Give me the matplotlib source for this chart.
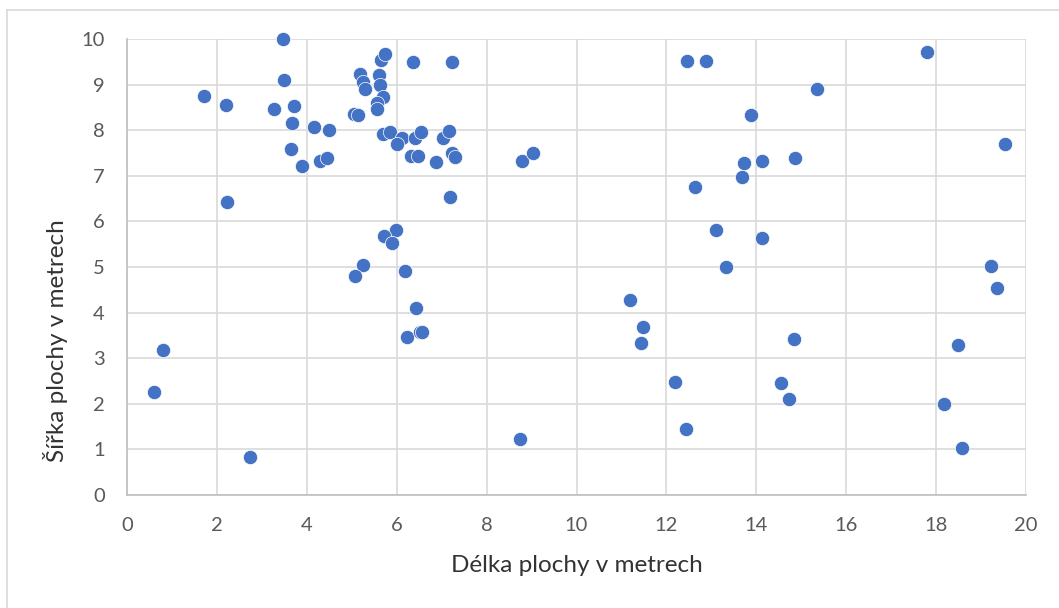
#!/usr/bin/env python3
"""Scatter: length vs width of plots, Excel-like look."""
import matplotlib
matplotlib.use('Agg')
import matplotlib.pyplot as plt
from matplotlib.lines import Line2D

# Délka (x) and šířka (y), in metres
delka = [
    0.60, 0.81, 1.71, 2.21, 2.22, 2.74, 3.27, 3.46, 3.49, 3.72,
    3.67, 3.65, 3.90, 4.16, 4.49, 4.29, 4.46, 5.04, 5.15, 5.18,
    5.26, 5.29, 5.61, 5.64, 5.74, 5.63, 5.70, 5.57, 5.57, 6.36,
    7.24, 5.70, 5.84, 6.11, 6.00, 6.41, 6.53, 7.04, 7.17, 6.31,
    6.47, 6.87, 7.24, 7.30, 2.22, 7.19, 5.99, 5.72, 5.89, 5.24,
    5.07, 6.18, 6.44, 6.24, 6.52, 6.56, 8.74, 8.78, 9.03,
    12.45, 12.88, 17.80, 15.36, 13.89, 19.53, 13.72, 14.13, 14.85, 13.68,
    12.64, 13.10, 14.13, 13.33, 19.22, 19.35, 11.18, 11.48, 11.43, 14.83,
    18.49, 12.20, 14.56, 14.73, 18.18, 12.44, 18.58,
]
sirka = [
    2.25, 3.19, 8.76, 8.56, 6.42, 0.84, 8.46, 9.99, 9.10, 8.53,
    8.16, 7.59, 7.21, 8.06, 8.01, 7.32, 7.40, 8.35, 8.33, 9.23,
    9.06, 8.90, 9.20, 9.54, 9.67, 8.99, 8.72, 8.59, 8.46, 9.50,
    9.50, 7.92, 7.97, 7.82, 7.70, 7.82, 7.95, 7.82, 7.99, 7.43,
    7.43, 7.31, 7.49, 7.42, 6.42, 6.53, 5.82, 5.69, 5.53, 5.05,
    4.81, 4.92, 4.09, 3.46, 3.57, 3.57, 1.23, 7.32, 7.49,
    9.52, 9.52, 9.71, 8.90, 8.33, 7.70, 7.29, 7.32, 7.38, 6.97,
    6.76, 5.81, 5.64, 5.01, 5.03, 4.55, 4.28, 3.69, 3.33, 3.42,
    3.30, 2.48, 2.46, 2.10, 1.99, 1.44, 1.02,
]

x_ticks = list(range(0, 21, 2))
y_ticks = list(range(0, 11))

plt.rcParams['font.family'] = ['Lato', 'DejaVu Sans']

fig = plt.figure(figsize=(10.59, 6.08), dpi=100)
ax = fig.add_axes([127 / 1059, 1 - 495 / 608, 899 / 1059, 456 / 608])

ax.scatter(delka, sirka, s=105, color='#4472C4', edgecolors='white',
           linewidths=0.5, zorder=3, clip_on=False)

ax.set_xlim(0, 20)
ax.set_ylim(0, 10)
ax.set_xticks(x_ticks)
ax.set_yticks(y_ticks)
ax.grid(True, color='#D9D9D9', linewidth=1.2, zorder=0)
ax.set_axisbelow(True)
for side in ('top', 'right'):
    ax.spines[side].set_visible(False)
for side in ('left', 'bottom'):
    ax.spines[side].set_color('#BFBFBF')
    ax.spines[side].set_linewidth(1.2)
ax.tick_params(length=0, labelsize=14.5, labelcolor='#595959')
ax.tick_params(axis='x', pad=16)
ax.tick_params(axis='y', pad=16)

ax.set_xlabel('Délka plochy v metrech', fontsize=17.5, color='#333333')
ax.set_ylabel('Šířka plochy v metrech', fontsize=17.5, color='#333333')
for lab in (ax.xaxis.label, ax.yaxis.label):
    lab.set_ha('center')
    lab.set_va('center')
ax.xaxis.set_label_coords(0.5, (495 - 566) / 456)
ax.yaxis.set_label_coords((55 - 127) / 899, (495 - 341) / 456)

# chart-area border (only left and top edges fall inside the picture)
bx, by = 7 / 1059, 1 - 10 / 608
fig.add_artist(Line2D([bx, bx], [0, by], transform=fig.transFigure,
                      color='#D9D9D9', linewidth=1.2))
fig.add_artist(Line2D([bx, 1], [by, by], transform=fig.transFigure,
                      color='#D9D9D9', linewidth=1.2))

fig.savefig('out.png', dpi=100)
